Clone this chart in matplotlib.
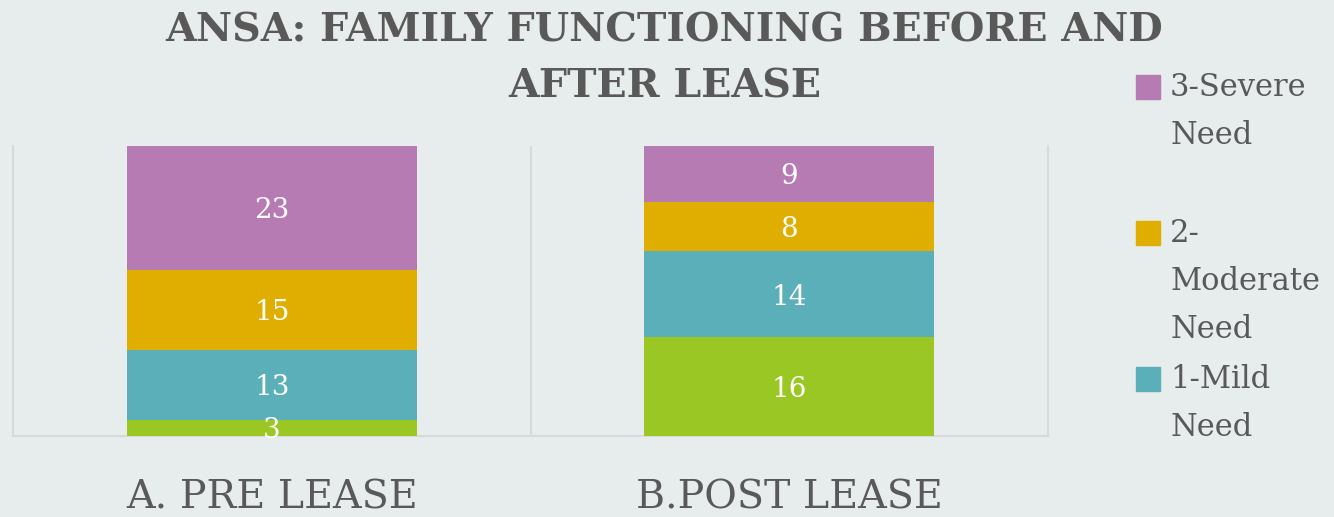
import numpy as np
import matplotlib
matplotlib.use('Agg')
import matplotlib.pyplot as plt
from matplotlib.patches import Rectangle

# data
categories = ["A. PRE LEASE", "B.POST LEASE"]
series_names = ["0-No Need", "1-Mild Need", "2-Moderate Need", "3-Severe Need"]
no_need = [3, 16]
mild = [13, 14]
moderate = [15, 8]
severe = [23, 9]
legend_labels = [["3-Severe", "Need"], ["2-", "Moderate", "Need"], ["1-Mild", "Need"]]

colors = ["#9AC723", "#5BAFB9", "#DFAE00", "#B67BB3"]
bg = "#E7ECEC"
grey_text = "#595959"
grid_col = "#D9D9D9"
font = "DejaVu Serif"

values = np.array([no_need, mild, moderate, severe], dtype=float)
totals = values.sum(axis=0)
shares = values / totals

fig = plt.figure(figsize=(13.34, 5.17), dpi=100, facecolor=bg)
ax = fig.add_axes([13 / 1334, 81 / 517, 1035 / 1334, 290 / 517])
ax.set_facecolor(bg)

x = np.arange(len(categories))
bottom = np.zeros(len(categories))
for i in range(len(values)):
    ax.bar(x, shares[i], 0.56, bottom=bottom, color=colors[i], zorder=3)
    for j in range(len(categories)):
        ax.text(x[j], bottom[j] + shares[i][j] / 2, str(int(values[i][j])),
                ha="center", va="center_baseline", color="white", fontsize=20,
                family=font, zorder=4)
    bottom += shares[i]

ax.set_xlim(-0.5, len(categories) - 0.5)
ax.set_ylim(0, 1)
ax.set_yticks([])
ax.set_xticks(x)
ax.set_xticklabels(categories, family=font, fontsize=28.5, color=grey_text)
ax.tick_params(axis="x", length=0, pad=31)
ax.set_xticks([0.5], minor=True)
ax.tick_params(axis="x", which="minor", length=0)
ax.grid(axis="x", which="minor", color=grid_col, linewidth=1.5, zorder=0)
for s in ["left", "right", "bottom"]:
    ax.spines[s].set_color(grid_col)
    ax.spines[s].set_linewidth(1.5)
ax.spines["top"].set_visible(False)

fig.text(0.498, 1 - 30 / 517, "ANSA: FAMILY FUNCTIONING BEFORE AND",
         ha="center", va="center", fontsize=28.5, fontweight="bold",
         family=font, color=grey_text)
fig.text(0.498, 1 - 87 / 517, "AFTER LEASE",
         ha="center", va="center", fontsize=28.5, fontweight="bold",
         family=font, color=grey_text)

# legend drawn by hand, Excel style
leg_tops = [87, 233, 379]
leg_colors = [colors[3], colors[2], colors[1]]
for k, lines in enumerate(legend_labels):
    y0 = leg_tops[k]
    fig.patches.append(Rectangle((1136 / 1334, 1 - (y0 + 12) / 517), 24 / 1334, 24 / 517,
                                 transform=fig.transFigure, color=leg_colors[k]))
    for n, line in enumerate(lines):
        fig.text(1170 / 1334, 1 - (y0 + n * 48.5) / 517, line, ha="left", va="center",
                 fontsize=22, family=font, color=grey_text)

fig.savefig("out.png", dpi=100, facecolor=bg)
